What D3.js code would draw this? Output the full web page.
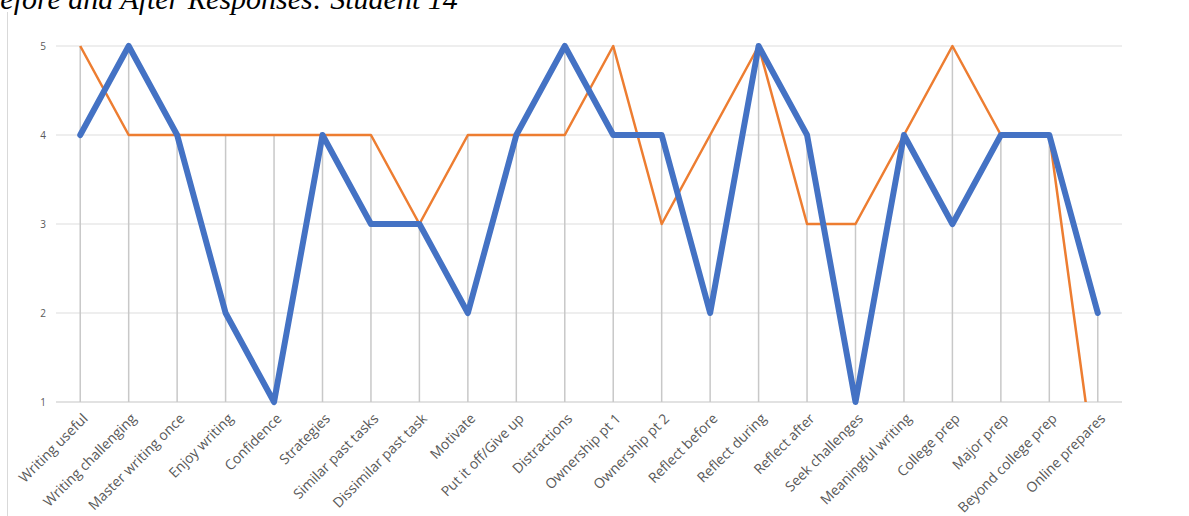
<!DOCTYPE html>
<html>
<head>
<meta charset="utf-8">
<script src="https://cdn.jsdelivr.net/npm/d3@7"></script>
<style>
  body { margin: 0; background: #fff; }
  svg { display: block; }
</style>
</head>
<body>
<div id="chart"></div>
<script>
// survey items along the x axis
const categories = [
  'Writing useful', 'Writing challenging', 'Master writing once', 'Enjoy writing',
  'Confidence', 'Strategies', 'Similar past tasks', 'Dissimilar past task',
  'Motivate', 'Put it off/Give up', 'Distractions', 'Ownership pt 1',
  'Ownership pt 2', 'Reflect before', 'Reflect during', 'Reflect after',
  'Seek challenges', 'Meaningful writing', 'College prep', 'Major prep',
  'Beyond college prep', 'Online prepares'
];
// thick blue series
const blueValues = [4, 5, 4, 2, 1, 4, 3, 3, 2, 4, 5, 4, 4, 2, 5, 4, 1, 4, 3, 4, 4, 2];
// thin orange series (last one is blank -> 0, runs off the bottom)
const orangeValues = [5, 4, 4, 4, 4, 4, 4, 3, 4, 4, 4, 5, 3, 4, 5, 3, 3, 4, 5, 4, 4, 0];
const yTicks = [1, 2, 3, 4, 5];

const width = 1189, height = 516;

const svg = d3.select('#chart').append('svg')
  .attr('width', width)
  .attr('height', height);

// title is partly cut off at the top-left of the screenshot
svg.append('text')
  .attr('x', -18)
  .attr('y', 9)
  .attr('font-family', 'Liberation Serif, serif')
  .attr('font-style', 'italic')
  .attr('font-size', 30)
  .attr('fill', '#000')
  .text('Before and After Responses: Student 14');

// chart area border on the left
svg.append('line')
  .attr('x1', 7.5).attr('x2', 7.5)
  .attr('y1', 12).attr('y2', height)
  .attr('stroke', '#d9d9d9')
  .attr('stroke-width', 1);

const x = d3.scaleBand()
  .domain(categories)
  .range([56, 1122]);

const y = d3.scaleLinear()
  .domain([1, 5])
  .range([402, 46]);

const cx = d => x(d) + x.bandwidth() / 2;

// horizontal gridlines
svg.append('g')
  .selectAll('line')
  .data(yTicks)
  .enter().append('line')
    .attr('x1', 56).attr('x2', 1122)
    .attr('y1', d => y(d)).attr('y2', d => y(d))
    .attr('stroke', d => d === 1 ? '#d9d9d9' : '#e8e8e8')
    .attr('stroke-width', 1.5);

// y tick labels
svg.append('g')
  .selectAll('text')
  .data(yTicks)
  .enter().append('text')
    .attr('x', 46)
    .attr('y', d => y(d))
    .attr('dy', '0.35em')
    .attr('text-anchor', 'end')
    .attr('font-family', 'Open Sans, sans-serif')
    .attr('font-size', 10)
    .attr('fill', '#595959')
    .text(d => d);

// drop lines from the highest point down to the baseline
svg.append('g')
  .selectAll('line')
  .data(categories)
  .enter().append('line')
    .attr('x1', d => cx(d)).attr('x2', d => cx(d))
    .attr('y1', (d, i) => y(Math.min(5, Math.max(blueValues[i], orangeValues[i], 1))))
    .attr('y2', y(1))
    .attr('stroke', '#c8c8c8')
    .attr('stroke-width', 1.5);

// clip the lines to the plot area
svg.append('clipPath').attr('id', 'plot')
  .append('rect')
    .attr('x', 0).attr('y', 0)
    .attr('width', width).attr('height', y(1));

const line = d3.line()
  .x((d, i) => cx(categories[i]))
  .y(d => y(d));

svg.append('path')
  .datum(orangeValues)
  .attr('clip-path', 'url(#plot)')
  .attr('d', line)
  .attr('fill', 'none')
  .attr('stroke', '#ED7D31')
  .attr('stroke-width', 2.5)
  .attr('stroke-linejoin', 'round');

svg.append('path')
  .datum(blueValues)
  .attr('d', line)
  .attr('fill', 'none')
  .attr('stroke', '#4472C4')
  .attr('stroke-width', 6)
  .attr('stroke-linejoin', 'round')
  .attr('stroke-linecap', 'round');

// rotated category labels
svg.append('g')
  .selectAll('text')
  .data(categories)
  .enter().append('text')
    .attr('transform', d => `translate(${cx(d) + 5},${416}) rotate(-45)`)
    .attr('text-anchor', 'end')
    .attr('dy', '0.35em')
    .attr('font-family', 'Open Sans, sans-serif')
    .attr('font-size', 14)
    .attr('fill', '#595959')
    .text(d => d);
</script>
</body>
</html>
